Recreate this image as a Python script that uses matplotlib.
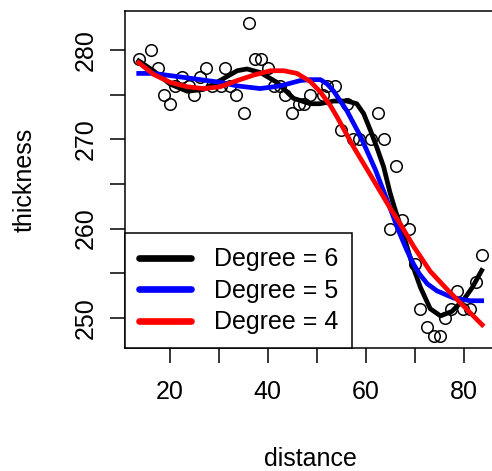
import numpy as np
import matplotlib
matplotlib.use("Agg")
import matplotlib.pyplot as plt

plt.rcParams['font.family'] = ['Liberation Sans', 'DejaVu Sans']

distance = [13.7, 16.3, 17.7, 18.8, 20.0, 21.2, 22.6, 23.9, 24.9, 26.3,
            27.5, 28.7, 30.4, 31.4, 32.4, 33.6, 35.1, 36.3, 37.5, 38.6,
            40.1, 41.3, 42.6, 43.6, 44.9, 46.4, 47.4, 48.7, 51.3, 52.1,
            53.8, 54.9, 56.2, 57.4, 58.6, 61.1, 62.5, 63.7, 64.9, 66.2,
            67.4, 68.8, 70.0, 71.1, 72.6, 73.9, 75.1, 76.2, 77.5, 78.7,
            79.9, 81.4, 82.6, 83.7]
thickness = [279, 280, 278, 275, 274, 276, 277, 276, 275, 277,
             278, 276, 276, 278, 276, 275, 273, 283, 279, 279,
             278, 276, 276, 275, 273, 274, 274, 275, 275, 276,
             276, 271, 274, 270, 270, 270, 273, 270, 260, 267,
             261, 260, 256, 251, 249, 248, 248, 250, 251, 253,
             251, 251, 254, 257]

# fitted curves (sample points along each curve)
deg6_x = [13.7, 16.7, 20.1, 23.6, 26.9, 30.3, 33.8, 35.8, 38.5, 41.9,
          45.3, 48.7, 50.7, 53.5, 56.2, 58.2, 59.6, 61.0, 62.3, 63.7,
          65.0, 66.1, 67.8, 69.5, 71.2, 73.2, 75.3, 77.6, 80.0, 81.8, 83.7]
deg6_y = [278.8, 277.7, 276.2, 275.4, 275.6, 276.6, 277.7, 277.9, 277.5, 276.4,
          274.6, 274.0, 274.0, 274.3, 274.3, 274.0, 272.9, 271.0, 269.1, 266.9,
          264.0, 262.0, 259.2, 256.0, 253.4, 251.0, 250.2, 250.7, 252.0, 253.4,
          255.3]
deg5_x = [13.7, 16.7, 23.6, 30.3, 33.8, 38.5, 42.6, 46.7, 48.7, 50.8,
          52.2, 53.5, 56.2, 59.0, 62.0, 65.0, 66.7, 68.4, 69.8, 71.0,
          72.6, 74.6, 78.0, 81.4, 83.7]
deg5_y = [277.4, 277.4, 276.9, 276.4, 276.0, 275.7, 276.0, 276.6, 276.7, 276.7,
          276.2, 275.4, 273.2, 270.3, 266.6, 262.3, 259.8, 257.6, 256.0, 254.9,
          253.8, 253.0, 252.2, 251.9, 251.9]
deg4_x = [13.7, 16.7, 20.1, 23.6, 26.9, 30.3, 33.8, 37.1, 40.6, 43.3,
          46.0, 48.7, 50.8, 52.8, 54.2, 57.6, 61.0, 65.0, 67.1, 69.8,
          73.2, 76.6, 80.0, 83.8]
deg4_y = [278.6, 277.3, 276.4, 275.9, 275.7, 275.9, 276.6, 277.2, 277.7, 277.7,
          277.4, 276.5, 275.3, 273.8, 272.5, 269.1, 266.0, 262.3, 260.5, 258.0,
          255.2, 253.2, 251.3, 249.2]

degrees = [6, 5, 4]
colors = ['black', 'blue', 'red']
curves = [(deg6_x, deg6_y), (deg5_x, deg5_y), (deg4_x, deg4_y)]

fig = plt.figure(figsize=(4.92, 4.71), dpi=100)
ax = fig.add_axes([125 / 492, 1 - 348 / 471, 370.4 / 492, 337 / 471])

ax.plot(distance, thickness, 'o', mfc='none', mec='black', ms=8.3, mew=1.1,
        ls='none')

handles = []
for deg, col, (cx, cy) in zip(degrees, colors, curves):
    ax.plot(cx, cy, color=col, lw=3.4, solid_joinstyle='round')
    h, = ax.plot([], [], color=col, lw=4.8, solid_capstyle='round')
    handles.append(h)

ax.set_xlim(10.9, 86.5)
ax.set_ylim(246.6, 284.4)
ax.set_xticks(np.arange(20, 81, 10))
ax.set_xticklabels(['20', '', '40', '', '60', '', '80'])
ax.set_yticks(np.arange(250, 281, 5))
ax.set_yticklabels(['250', '', '260', '', '270', '', '280'], rotation=90,
                   va='center')
ax.tick_params(length=10.8, width=1.1, labelsize=18)
ax.tick_params(axis='x', pad=12.5)
ax.tick_params(axis='y', pad=8.6)
for s in ax.spines.values():
    s.set_linewidth(1.1)

ax.set_xlabel('distance', fontsize=18, labelpad=31)
ax.set_ylabel('thickness', fontsize=18, labelpad=27)

leg = ax.legend(handles, ['Degree = %d' % d for d in degrees],
                loc='lower left', borderaxespad=0, fontsize=18,
                fancybox=False, edgecolor='black', framealpha=1,
                borderpad=0.55, labelspacing=0.3, handlelength=2.1,
                handletextpad=0.9)
leg.get_frame().set_linewidth(1.1)

fig.savefig('out.png', dpi=100)
